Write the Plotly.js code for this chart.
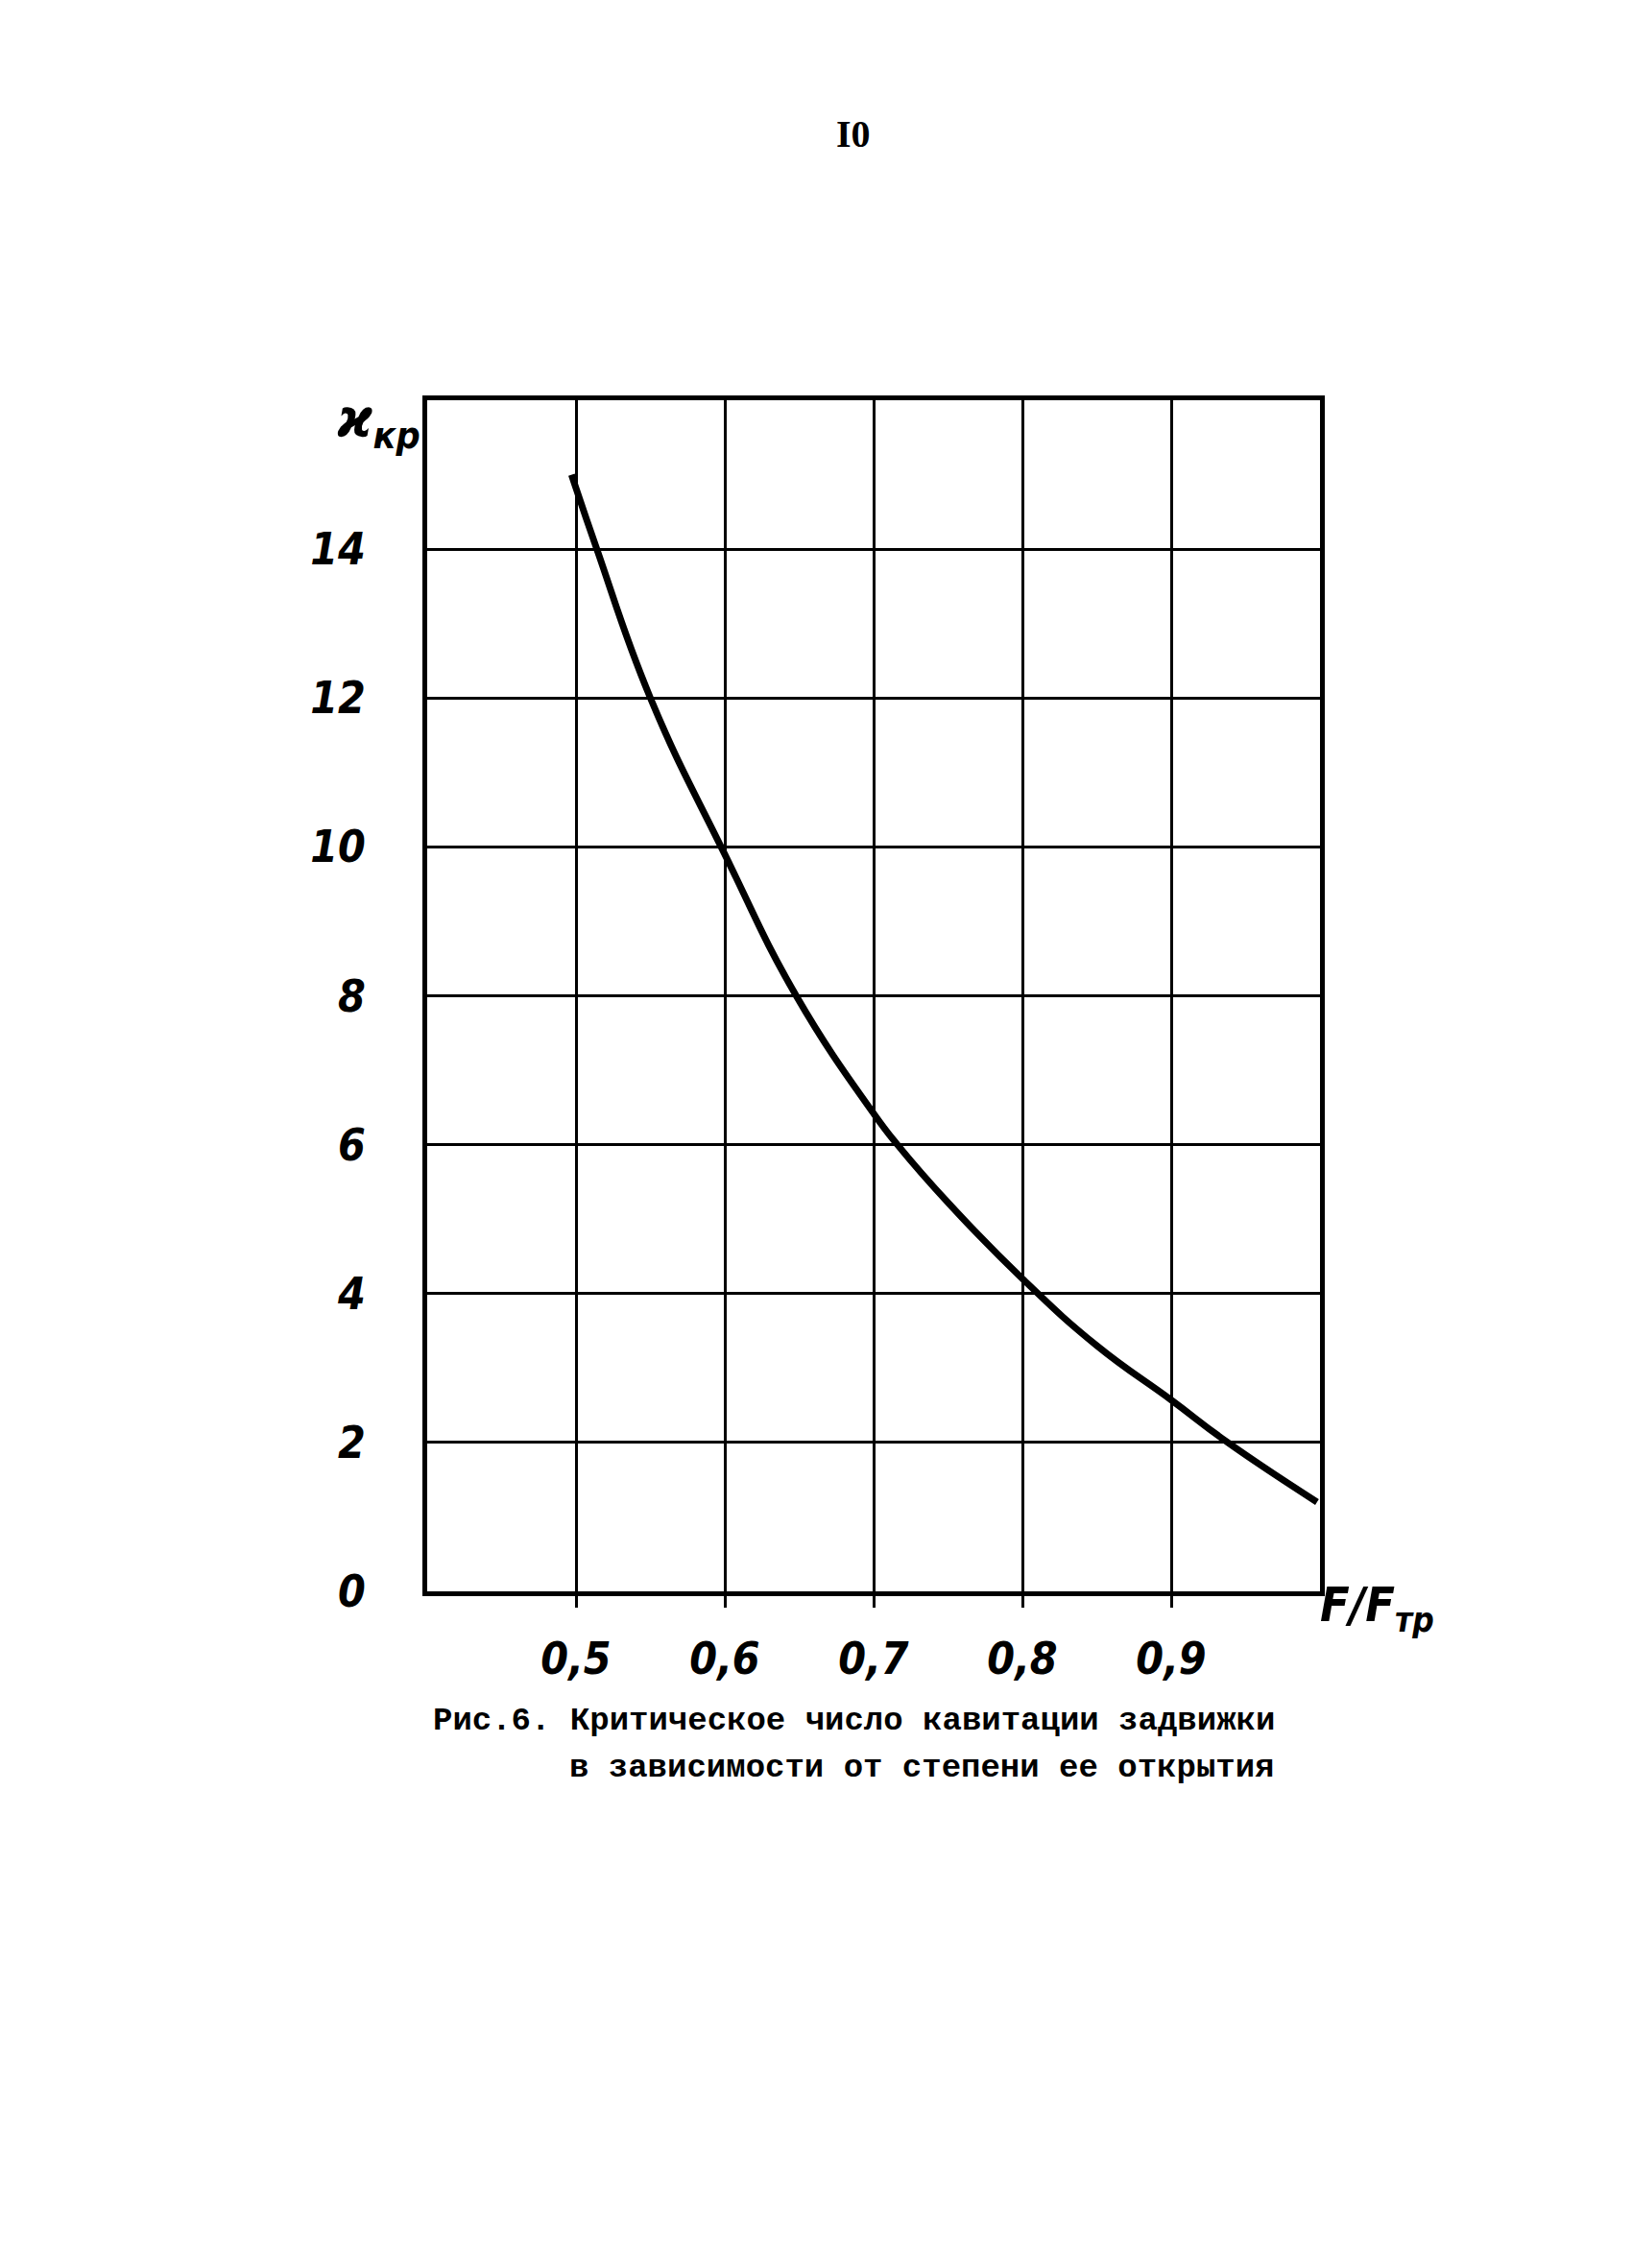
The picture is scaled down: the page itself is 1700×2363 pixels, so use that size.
<!DOCTYPE html>
<html>
<head>
<meta charset="utf-8">
<script src="https://cdn.plot.ly/plotly-3.0.1.min.js"></script>
<style>
  html, body { margin: 0; padding: 0; background: #ffffff; }
  #chart { width: 1700px; height: 2363px; }
</style>
</head>
<body>
<div id="chart"></div>
<script>
// Data (Рис.6)
const openingRatio = [0.497, 0.514, 0.550, 0.600, 0.648, 0.700, 0.716, 0.751, 0.800, 0.850, 0.900, 0.938, 0.998];
const criticalCavitation = [15.0, 14.0, 12.0, 9.9, 8.0, 6.42, 6.0, 5.2, 4.2, 3.3, 2.57, 2.0, 1.2];

const xTickVals = [0.5, 0.6, 0.7, 0.8, 0.9];
const xTickText = ['0,5', '0,6', '0,7', '0,8', '0,9'];
const yTickVals = [0, 2, 4, 6, 8, 10, 12, 14];
const yTickText = ['0', '2', '4', '6', '8', '10', '12', '14'];

const pageNumber = 'I0';
const yTitle = '<i><b>ϰ<sub>кр</sub></b></i>';
const xTitle = '<i><b>F/F<sub>тр</sub></b></i>';
const captionLine1 = 'Рис.6. Критическое число кавитации задвижки';
const captionLine2 = 'в зависимости от степени ее открытия';

const handFont = 'Liberation Sans Narrow, DejaVu Sans Condensed, Liberation Sans, Arial, sans-serif';
const typeFont = 'Liberation Mono, DejaVu Sans Mono, monospace';

const trace = {
  x: openingRatio,
  y: criticalCavitation,
  type: 'scatter',
  mode: 'lines',
  line: { color: '#000000', width: 7, shape: 'spline', smoothing: 1.3 },
  hoverinfo: 'x+y',
  showlegend: false
};

const layout = {
  width: 1700,
  height: 2363,
  paper_bgcolor: '#ffffff',
  plot_bgcolor: '#ffffff',
  margin: { l: 445, r: 325, t: 417, b: 705, pad: 0 },
  showlegend: false,
  xaxis: {
    range: [0.4, 1.0],
    tickmode: 'array',
    tickvals: xTickVals,
    ticktext: xTickText,
    ticks: 'outside',
    ticklen: 12,
    tickwidth: 3,
    tickcolor: '#000000',
    ticklabelstandoff: 14,
    tickfont: { family: handFont, size: 46, color: '#000000', style: 'italic', weight: 'bold' },
    showgrid: true,
    gridcolor: '#000000',
    gridwidth: 3,
    zeroline: false,
    showline: true,
    linecolor: '#000000',
    linewidth: 5,
    mirror: true,
    fixedrange: true
  },
  yaxis: {
    range: [0, 16],
    tickmode: 'array',
    tickvals: yTickVals,
    ticktext: yTickText,
    ticks: '',
    ticklabelstandoff: 50,
    tickfont: { family: handFont, size: 46, color: '#000000', style: 'italic', weight: 'bold' },
    showgrid: true,
    gridcolor: '#000000',
    gridwidth: 3,
    zeroline: false,
    showline: true,
    linecolor: '#000000',
    linewidth: 5,
    mirror: true,
    fixedrange: true
  },
  annotations: [
    {
      text: pageNumber, xref: 'paper', yref: 'paper',
      x: 0.4774, y: 1.224, xanchor: 'center', yanchor: 'middle', showarrow: false,
      font: { family: 'Liberation Serif, DejaVu Serif, serif', size: 40, color: '#000000', weight: 'bold' }
    },
    {
      text: yTitle, xref: 'paper', yref: 'paper',
      x: -0.054, y: 0.982, xanchor: 'center', yanchor: 'middle', showarrow: false,
      font: { family: handFont, size: 56, color: '#000000' }
    },
    {
      text: xTitle, xref: 'paper', yref: 'paper',
      x: 1.064, y: -0.014, xanchor: 'center', yanchor: 'middle', showarrow: false,
      font: { family: handFont, size: 50, color: '#000000' }
    },
    {
      text: '<b>' + captionLine1 + '</b>', xref: 'paper', yref: 'paper',
      x: 0.004, y: -0.1088, xanchor: 'left', yanchor: 'middle', showarrow: false,
      font: { family: typeFont, size: 34, color: '#000000' }
    },
    {
      text: '<b>' + captionLine2 + '</b>', xref: 'paper', yref: 'paper',
      x: 0.157, y: -0.1483, xanchor: 'left', yanchor: 'middle', showarrow: false,
      font: { family: typeFont, size: 34, color: '#000000' }
    }
  ]
};

Plotly.newPlot('chart', [trace], layout, { displayModeBar: false, staticPlot: true });
</script>
</body>
</html>
